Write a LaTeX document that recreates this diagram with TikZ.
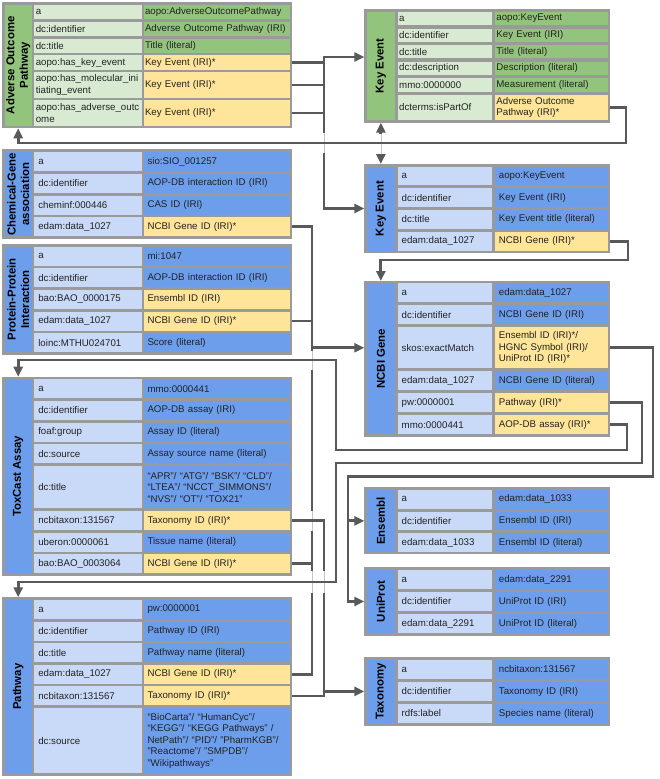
\documentclass[tikz,border=0pt]{standalone}
\usepackage{fontspec}
\setmainfont{Liberation Sans}
\usetikzlibrary{arrows.meta}

\definecolor{grnD}{HTML}{93C47D}
\definecolor{grnL}{HTML}{D9EAD3}
\definecolor{bluD}{HTML}{6D9EEB}
\definecolor{bluL}{HTML}{C9DAF8}
\definecolor{yel}{HTML}{FFE599}
\definecolor{rim}{HTML}{9A9A9A}
\definecolor{wire}{HTML}{595959}
\definecolor{hopgray}{HTML}{C4C4C4}
\definecolor{ink}{HTML}{222222}

\tikzset{
	frame/.style={fill=rim, anchor=north west, inner sep=0pt, outer sep=0pt},
	ttl/.style={rotate=90, align=center, inner sep=0pt, outer sep=0pt, text=black, font=\fontsize{11.4}{13.5}\selectfont\bfseries},
	cell/.style={anchor=west, inner ysep=0pt, outer sep=0pt, align=left, text=ink, font=\fontsize{9.7}{11.5}\selectfont},
	rh/.style={minimum height=#1pt},
	lgk/.style={cell, fill=grnL, inner xsep=1.5pt, text width=104.4pt},
	lgv/.style={cell, fill=grnD, inner xsep=1pt, text width=143.5pt},
	lbk/.style={cell, fill=bluL, inner xsep=4pt, text width=99.4pt},
	lbv/.style={cell, fill=bluD, inner xsep=3.5pt, text width=138.5pt},
	rgk/.style={cell, fill=grnL, inner xsep=1.5pt, text width=91.6pt},
	rgv/.style={cell, fill=grnD, inner xsep=1.5pt, text width=109.6pt},
	rbk/.style={cell, fill=bluL, inner xsep=4pt, text width=86.6pt},
	rbv/.style={cell, fill=bluD, inner xsep=4pt, text width=104.6pt},
	iri/.style={fill=yel},
	conn/.style={draw=wire, line width=2.8pt},
	hop/.style={draw=white, line width=4.6pt, postaction={draw=hopgray, line width=0.7pt}},
}

\begin{document}
\begin{tikzpicture}[x=1pt, y=-1pt, >={Triangle[length=10pt,width=9pt]}]
	
	\fill[white] (0,0) rectangle (659,779);
	\useasboundingbox (0,0) rectangle (659,779);
	
	% Adverse Outcome Pathway
	\node[frame, minimum width=289.9pt, minimum height=126pt] (aop) at (2.3,2.3) {};
	\node[ttl, fill=grnD, minimum width=121.1pt, minimum height=27pt] (aop-t) at (18.2,65.25) {Adverse Outcome\\Pathway};
	\node[lgk, rh=14.4] (aop-k1) at (34.3,11.9) {a};
	\node[lgv, rh=14.4] (aop-v1) at (144,11.9) {aopo:AdverseOutcomePathway};
	\node[lgk, rh=14.4] (aop-k2) at (34.3,28.8) {dc:identifier};
	\node[lgv, rh=14.4] (aop-v2) at (144,28.8) {Adverse Outcome Pathway (IRI)};
	\node[lgk, rh=14.4] (aop-k3) at (34.3,45.7) {dc:title};
	\node[lgv, rh=14.4] (aop-v3) at (144,45.7) {Title (literal)};
	\node[lgk, rh=14.4] (aop-k4) at (34.3,62.6) {aopo:has\_key\_event};
	\node[lgv, iri, rh=14.4] (aop-v4) at (144,62.6) {Key Event (IRI)*};
	\node[lgk, rh=25.5] (aop-k5) at (34.3,85.05) {aopo:has\_molecular\_ini\\tiating\_event};
	\node[lgv, iri, rh=25.5] (aop-v5) at (144,85.05) {Key Event (IRI)*};
	\node[lgk, rh=25.5] (aop-k6) at (34.3,113.05) {aopo:has\_adverse\_outc\\ome};
	\node[lgv, iri, rh=25.5] (aop-v6) at (144,113.05) {Key Event (IRI)*};
	
	% Key Event (green)
	\node[frame, minimum width=245.8pt, minimum height=113.4pt] (ke1) at (364.3,9.3) {};
	\node[ttl, fill=grnD, minimum width=108pt, minimum height=28.3pt] (ke1-t) at (380.85,66) {Key Event};
	\node[rgk, rh=13.2] (ke1-k1) at (397.7,18.6) {a};
	\node[rgv, rh=13.2] (ke1-v1) at (494.9,18.6) {aopo:KeyEvent};
	\node[rgk, rh=13.2] (ke1-k2) at (397.7,35.2) {dc:identifier};
	\node[rgv, rh=13.2] (ke1-v2) at (494.9,35.2) {Key Event (IRI)};
	\node[rgk, rh=13.2] (ke1-k3) at (397.7,51.8) {dc:title};
	\node[rgv, rh=13.2] (ke1-v3) at (494.9,51.8) {Title (literal)};
	\node[rgk, rh=13.2] (ke1-k4) at (397.7,68.4) {dc:description};
	\node[rgv, rh=13.2] (ke1-v4) at (494.9,68.4) {Description (literal)};
	\node[rgk, rh=13.2] (ke1-k5) at (397.7,85) {mmo:0000000};
	\node[rgv, rh=13.2] (ke1-v5) at (494.9,85) {Measurement (literal)};
	\node[rgk, rh=25] (ke1-k6) at (397.7,107.5) {dcterms:isPartOf};
	\node[rgv, iri, rh=25] (ke1-v6) at (494.9,107.5) {Adverse Outcome\\Pathway (IRI)*};
	
	% Chemical-Gene association
	\node[frame, minimum width=289.9pt, minimum height=89.3pt] (cga) at (2.3,149.3) {};
	\node[ttl, fill=bluD, minimum width=83.8pt, minimum height=27pt] (cga-t) at (18.2,194.2) {Chemical-Gene\\association};
	\node[lbk, rh=19] (cga-k1) at (34.3,161.8) {a};
	\node[lbv, rh=19] (cga-v1) at (144,161.8) {sio:SIO\_001257};
	\node[lbk, rh=19] (cga-k2) at (34.3,183.4) {dc:identifier};
	\node[lbv, rh=19] (cga-v2) at (144,183.4) {AOP-DB interaction ID (IRI)};
	\node[lbk, rh=19] (cga-k3) at (34.3,205) {cheminf:000446};
	\node[lbv, rh=19] (cga-v3) at (144,205) {CAS ID (IRI)};
	\node[lbk, rh=19] (cga-k4) at (34.3,226.6) {edam:data\_1027};
	\node[lbv, iri, rh=19] (cga-v4) at (144,226.6) {NCBI Gene ID (IRI)*};
	
	% Protein-Protein Interaction
	\node[frame, minimum width=289.9pt, minimum height=110.5pt] (ppi) at (2.3,244) {};
	\node[ttl, fill=bluD, minimum width=105.4pt, minimum height=27pt] (ppi-t) at (18.2,299.4) {Protein-Protein\\Interaction};
	\node[lbk, rh=19] (ppi-k1) at (34.3,256.2) {a};
	\node[lbv, rh=19] (ppi-v1) at (144,256.2) {mi:1047};
	\node[lbk, rh=19] (ppi-k2) at (34.3,277.8) {dc:identifier};
	\node[lbv, rh=19] (ppi-v2) at (144,277.8) {AOP-DB interaction ID (IRI)};
	\node[lbk, rh=19] (ppi-k3) at (34.3,299.4) {bao:BAO\_0000175};
	\node[lbv, iri, rh=19] (ppi-v3) at (144,299.4) {Ensembl ID (IRI)};
	\node[lbk, rh=19] (ppi-k4) at (34.3,321) {edam:data\_1027};
	\node[lbv, iri, rh=19] (ppi-v4) at (144,321) {NCBI Gene ID (IRI)*};
	\node[lbk, rh=19] (ppi-k5) at (34.3,342.6) {loinc:MTHU024701};
	\node[lbv, rh=19] (ppi-v5) at (144,342.6) {Score (literal)};
	
	% ToxCast Assay
	\node[frame, minimum width=289.9pt, minimum height=198.9pt] (tox) at (2.3,376.7) {};
	\node[ttl, fill=bluD, minimum width=193.9pt, minimum height=27pt] (tox-t) at (18.2,476.25) {ToxCast Assay};
	\node[lbk, rh=19] (tox-k1) at (34.3,388.8) {a};
	\node[lbv, rh=19] (tox-v1) at (144,388.8) {mmo:0000441};
	\node[lbk, rh=19] (tox-k2) at (34.3,410.4) {dc:identifier};
	\node[lbv, rh=19] (tox-v2) at (144,410.4) {AOP-DB assay (IRI)};
	\node[lbk, rh=19] (tox-k3) at (34.3,432) {foaf:group};
	\node[lbv, rh=19] (tox-v3) at (144,432) {Assay ID (literal)};
	\node[lbk, rh=19] (tox-k4) at (34.3,453.6) {dc:source};
	\node[lbv, rh=19] (tox-v4) at (144,453.6) {Assay source name (literal)};
	\node[lbk, rh=42.7] (tox-k5) at (34.3,487.05) {dc:title};
	\node[lbv, rh=42.7] (tox-v5) at (144,487.05) {“APR”/ “ATG”/ “BSK”/ “CLD”/\\“LTEA”/ “NCCT\_SIMMONS”/\\“NVS”/ “OT”/ “TOX21”};
	\node[lbk, rh=19] (tox-k6) at (34.3,520.5) {ncbitaxon:131567};
	\node[lbv, iri, rh=19] (tox-v6) at (144,520.5) {Taxonomy ID (IRI)*};
	\node[lbk, rh=19] (tox-k7) at (34.3,542.1) {uberon:0000061};
	\node[lbv, rh=19] (tox-v7) at (144,542.1) {Tissue name (literal)};
	\node[lbk, rh=19] (tox-k8) at (34.3,563.7) {bao:BAO\_0003064};
	\node[lbv, iri, rh=19] (tox-v8) at (144,563.7) {NCBI Gene ID (IRI)*};
	
	% Pathway
	\node[frame, minimum width=289.9pt, minimum height=178.7pt] (pw) at (2.3,597.3) {};
	\node[ttl, fill=bluD, minimum width=173.3pt, minimum height=27pt] (pw-t) at (18.2,686.65) {Pathway};
	\node[lbk, rh=19] (pw-k1) at (34.3,609.5) {a};
	\node[lbv, rh=19] (pw-v1) at (144,609.5) {pw:0000001};
	\node[lbk, rh=19] (pw-k2) at (34.3,631.1) {dc:identifier};
	\node[lbv, rh=19] (pw-v2) at (144,631.1) {Pathway ID (IRI)};
	\node[lbk, rh=19] (pw-k3) at (34.3,652.7) {dc:title};
	\node[lbv, rh=19] (pw-v3) at (144,652.7) {Pathway name (literal)};
	\node[lbk, rh=19] (pw-k4) at (34.3,674.3) {edam:data\_1027};
	\node[lbv, iri, rh=19] (pw-v4) at (144,674.3) {NCBI Gene ID (IRI)*};
	\node[lbk, rh=19] (pw-k5) at (34.3,695.9) {ncbitaxon:131567};
	\node[lbv, iri, rh=19] (pw-v5) at (144,695.9) {Taxonomy ID (IRI)*};
	\node[lbk, rh=65.3] (pw-k6) at (34.3,740.65) {dc:source};
	\node[lbv, rh=65.3] (pw-v6) at (144,740.65) {“BioCarta”/ “HumanCyc”/\\“KEGG”/ “KEGG Pathways” /\\NetPath”/ “PID”/ ”PharmKGB”/\\”Reactome”/ ”SMPDB”/\\”Wikipathways”};
	
	% Key Event (blue)
	\node[frame, minimum width=245.8pt, minimum height=89pt] (ke2) at (364.3,164) {};
	\node[ttl, fill=bluD, minimum width=83.8pt, minimum height=28.3pt] (ke2-t) at (380.85,208.6) {Key Event};
	\node[rbk, rh=18.7] (ke2-k1) at (397.7,176.05) {a};
	\node[rbv, rh=18.7] (ke2-v1) at (494.9,176.05) {aopo:KeyEvent};
	\node[rbk, rh=18.7] (ke2-k2) at (397.7,197.75) {dc:identifier};
	\node[rbv, rh=18.7] (ke2-v2) at (494.9,197.75) {Key Event (IRI)};
	\node[rbk, rh=18.7] (ke2-k3) at (397.7,219.45) {dc:title};
	\node[rbv, rh=18.7] (ke2-v3) at (494.9,219.45) {Key Event title (literal)};
	\node[rbk, rh=18.7] (ke2-k4) at (397.7,241.15) {edam:data\_1027};
	\node[rbv, iri, rh=18.7] (ke2-v4) at (494.9,241.15) {NCBI Gene (IRI)*};
	
	% NCBI Gene
	\node[frame, minimum width=245.8pt, minimum height=155.8pt] (ncbi) at (364.3,281) {};
	\node[ttl, fill=bluD, minimum width=151pt, minimum height=28.3pt] (ncbi-t) at (380.85,358.8) {NCBI Gene};
	\node[rbk, rh=19] (ncbi-k1) at (397.7,292.8) {a};
	\node[rbv, rh=19] (ncbi-v1) at (494.9,292.8) {edam:data\_1027};
	\node[rbk, rh=19] (ncbi-k2) at (397.7,314.8) {dc:identifier};
	\node[rbv, rh=19] (ncbi-v2) at (494.9,314.8) {NCBI Gene ID (IRI)};
	\node[rbk, rh=41] (ncbi-k3) at (397.7,347.8) {skos:exactMatch};
	\node[rbv, iri, rh=41] (ncbi-v3) at (494.9,347.8) {Ensembl ID (IRI)*/\\HGNC Symbol (IRI)/\\UniProt ID (IRI)*};
	\node[rbk, rh=19] (ncbi-k4) at (397.7,380.8) {edam:data\_1027};
	\node[rbv, rh=19] (ncbi-v4) at (494.9,380.8) {NCBI Gene ID (literal)};
	\node[rbk, rh=19] (ncbi-k5) at (397.7,402.8) {pw:0000001};
	\node[rbv, iri, rh=19] (ncbi-v5) at (494.9,402.8) {Pathway (IRI)*};
	\node[rbk, rh=19] (ncbi-k6) at (397.7,424.8) {mmo:0000441};
	\node[rbv, iri, rh=19] (ncbi-v6) at (494.9,424.8) {AOP-DB assay (IRI)*};
	
	% Ensembl
	\node[frame, minimum width=245.8pt, minimum height=67.1pt] (ens) at (364.3,487.3) {};
	\node[ttl, fill=bluD, minimum width=62.1pt, minimum height=28.3pt] (ens-t) at (380.85,521.05) {Ensembl};
	\node[rbk, rh=18.7] (ens-k1) at (397.7,499.35) {a};
	\node[rbv, rh=18.7] (ens-v1) at (494.9,499.35) {edam:data\_1033};
	\node[rbk, rh=18.7] (ens-k2) at (397.7,521.05) {dc:identifier};
	\node[rbv, rh=18.7] (ens-v2) at (494.9,521.05) {Ensembl ID (IRI)};
	\node[rbk, rh=18.7] (ens-k3) at (397.7,542.75) {edam:data\_1033};
	\node[rbv, rh=18.7] (ens-v3) at (494.9,542.75) {Ensembl ID (literal)};
	
	% UniProt
	\node[frame, minimum width=245.8pt, minimum height=68.3pt] (uni) at (364.3,567.3) {};
	\node[ttl, fill=bluD, minimum width=63pt, minimum height=28.3pt] (uni-t) at (380.85,601.5) {UniProt};
	\node[rbk, rh=19] (uni-k1) at (397.7,579.5) {a};
	\node[rbv, rh=19] (uni-v1) at (494.9,579.5) {edam:data\_2291};
	\node[rbk, rh=19] (uni-k2) at (397.7,601.5) {dc:identifier};
	\node[rbv, rh=19] (uni-v2) at (494.9,601.5) {UniProt ID (IRI)};
	\node[rbk, rh=19] (uni-k3) at (397.7,623.5) {edam:data\_2291};
	\node[rbv, rh=19] (uni-v3) at (494.9,623.5) {UniProt ID (literal)};
	
	% Taxonomy
	\node[frame, minimum width=245.8pt, minimum height=68.2pt] (tax) at (364.3,657.3) {};
	\node[ttl, fill=bluD, minimum width=63pt, minimum height=28.3pt] (tax-t) at (380.85,691.5) {Taxonomy};
	\node[rbk, rh=19] (tax-k1) at (397.7,669.5) {a};
	\node[rbv, rh=19] (tax-v1) at (494.9,669.5) {ncbitaxon:131567};
	\node[rbk, rh=19] (tax-k2) at (397.7,691.5) {dc:identifier};
	\node[rbv, rh=19] (tax-v2) at (494.9,691.5) {Taxonomy ID (IRI)};
	\node[rbk, rh=19] (tax-k3) at (397.7,713.5) {rdfs:label};
	\node[rbv, rh=19] (tax-v3) at (494.9,713.5) {Species name (literal)};
	
	
	% bus columns
	\coordinate (bx) at (324,0);
	\coordinate (kein) at (324,57);
	\coordinate (gx) at (312,0);
	\coordinate (tx) at (324,0);
	\coordinate (cx) at (348,0);
	
	% AOP -> Key Events
	\draw[conn, <->] (ke1.west |- kein) -- (kein) -- (ke2.west -| bx) -- (ke2.west);
	\draw[conn] (aop-v4 -| aop.east) -- (aop-v4 -| bx);
	\draw[conn] (aop-v5 -| aop.east) -- (aop-v5 -| bx);
	\draw[conn] (aop-v6 -| aop.east) -- (aop-v6 -| bx);
	\draw[conn, <->] (ke1.south -| ke1-t) -- (ke2.north -| ke2-t);
	
	\draw[hop] (324,133) -- (324,153);
	\draw[hop] (380.85,133.5) -- (380.85,153.5);
	
	% Key Event -> AOP
	\draw[conn, ->] (ke1-v6 -| ke1.east) -| (626,143) -| (aop-t |- aop.south);
	
	% Key Event -> NCBI Gene
	\draw[conn, ->] (ke2-v4 -| ke2.east) -| (628,260) -| (ncbi-t |- ncbi.north);
	
	% gene ids -> NCBI Gene
	\draw[conn] (cga-v4 -| cga.east) -| (pw-v4 -| gx) -- (pw-v4 -| pw.east);
	\draw[conn] (ppi-v4 -| ppi.east) -- (ppi-v4 -| gx);
	\draw[conn] (tox-v8 -| tox.east) -- (tox-v8 -| gx);
	\draw[conn, ->] (ncbi-v3 -| gx) -- (ncbi-v3 -| ncbi.west);
	
	\draw[hop] (312,510.5) -- (312,530.5);
	
	% taxonomy ids -> Taxonomy
	\draw[conn] (tox-v6 -| tox.east) -| (pw-v5 -| tx) -- (pw-v5 -| pw.east);
	\draw[conn, ->] (tax.west -| tx) -- (tax.west);
	
	\draw[hop] (312,350.5) -- (312,369.5);
	\draw[hop] (312,571) -- (312,593);
	\draw[hop] (324,571) -- (324,593);
	
	% NCBI Gene -> ToxCast, Pathway, Ensembl, UniProt
	\draw[conn, ->] (ncbi-v6 -| ncbi.east) -| (627,450) -| (336,360) -| (tox-t |- tox.north);
	\draw[conn, ->] (ncbi-v5 -| ncbi.east) -| (642,463) -| (336,582) -| (pw-t |- pw.north);
	\draw[conn, ->] (ncbi-v3 -| ncbi.east) -| (653,476.7) -| (uni.west -| cx) -- (uni.west);
	\draw[conn, ->] (ens.west -| cx) -- (ens.west);
	
\end{tikzpicture}
\end{document}
